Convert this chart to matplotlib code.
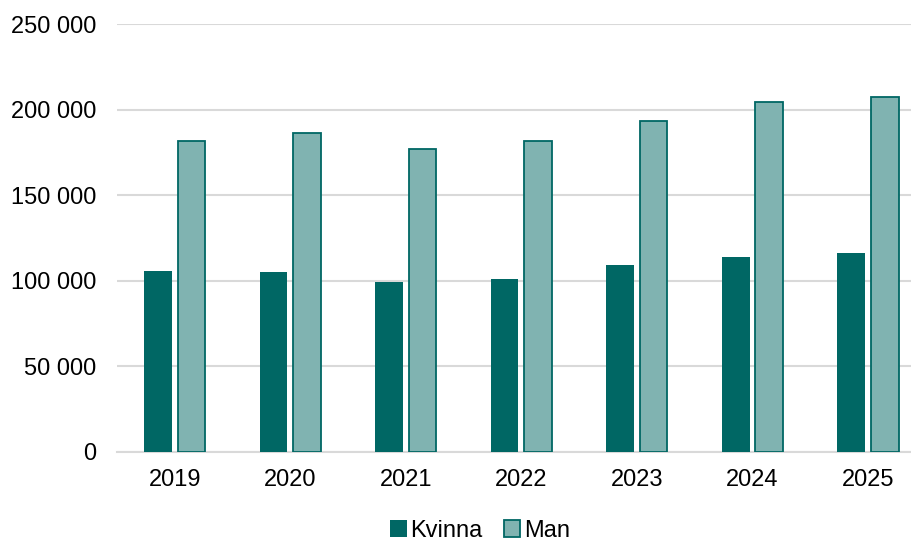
import numpy as np
import matplotlib.pyplot as plt
from matplotlib.ticker import FuncFormatter

years = ["2019", "2020", "2021", "2022", "2023", "2024", "2025"]
kvinna = [105900, 105300, 99300, 101000, 109400, 114000, 116200]
man = [181500, 186400, 177400, 181700, 193700, 204300, 207400]

dark = "#006764"
light = "#80B3B1"

plt.rcParams["font.family"] = ["Liberation Sans", "DejaVu Sans"]

fig = plt.figure(figsize=(9.12, 5.41), dpi=100)
ax = fig.add_axes([117 / 912, 89 / 541, 808.7 / 912, 427.7 / 541])

x = np.arange(len(years))
w = 0.24
ax.bar(x - 0.145, kvinna, w, color=dark, label="Kvinna", zorder=3)
ax.bar(x + 0.145, man, w, color=light, edgecolor=dark, linewidth=1.3,
       label="Man", zorder=3)

ax.set_xlim(-0.5, len(years) - 0.5)
ax.set_ylim(0, 250000)
ax.set_yticks(np.arange(0, 250001, 50000))
ax.yaxis.set_major_formatter(FuncFormatter(lambda v, p: f"{int(v):,}".replace(",", " ")))
ax.set_xticks(x)
ax.set_xticklabels(years)

ax.grid(axis="y", color="#d9d9d9", linewidth=1.5, zorder=0)
for s in ["top", "right", "left"]:
    ax.spines[s].set_visible(False)
ax.spines["bottom"].set_color("#d9d9d9")
ax.spines["bottom"].set_linewidth(1.5)
ax.tick_params(axis="both", length=0, labelsize=17, colors="black")
ax.tick_params(axis="y", pad=15)
ax.tick_params(axis="x", pad=12)

fig.legend(loc="center", bbox_to_anchor=(480 / 912, 1 - 531 / 541), ncol=2,
           frameon=False, fontsize=17, handlelength=0.7, handleheight=0.7,
           handletextpad=0.15, columnspacing=0.9)

fig.savefig("out.png", dpi=100)
